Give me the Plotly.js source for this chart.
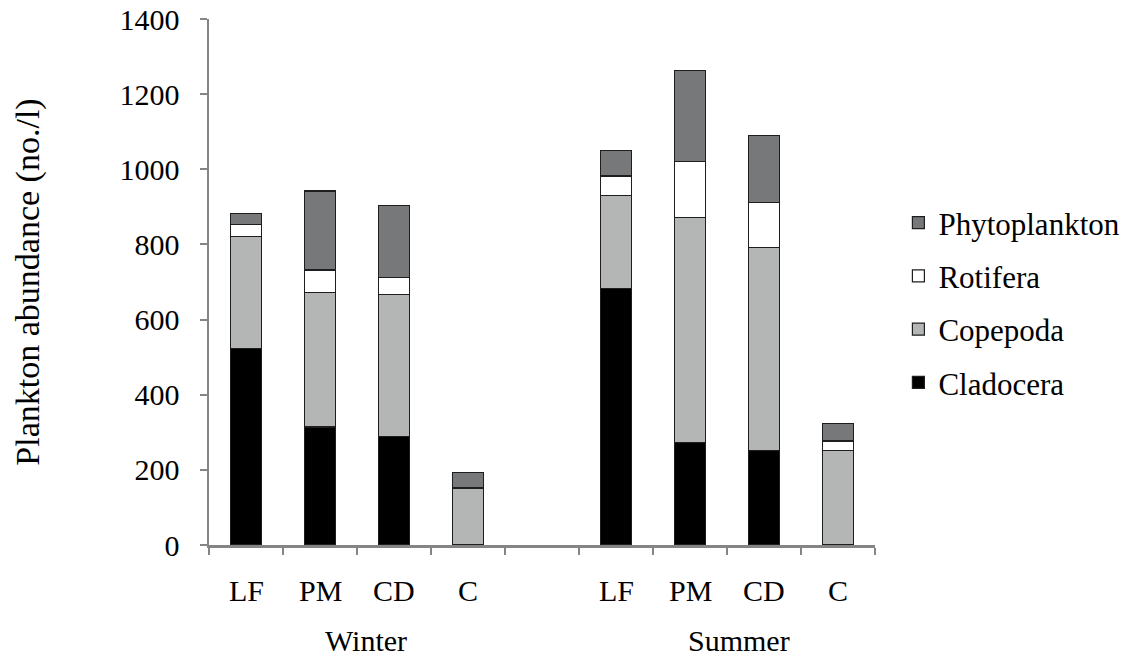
<!DOCTYPE html>
<html>
<head>
<meta charset="utf-8">
<script src="https://cdn.plot.ly/plotly-3.0.1.min.js"></script>
<style>
  html, body { margin: 0; padding: 0; background: #fff; }
  #chart { width: 1123px; height: 657px; }
</style>
</head>
<body>
<div id="chart"></div>
<script>
// Sampling stations within each season
const stations = ['LF', 'PM', 'CD', 'C'];
const seasons = ['Winter', 'Summer'];

// Abundance (no./l), ordered Winter LF, PM, CD, C then Summer LF, PM, CD, C
const cladocera     = [523, 314, 288, 0,   682, 272, 251, 0];
const copepoda      = [299, 359, 379, 150, 248, 599, 540, 251];
const rotifera      = [31,  59,  46,  3,   52,  150, 120, 26];
const phytoplankton = [30,  210, 190, 40,  67,  243, 180, 47];

const yTicks = [0, 200, 400, 600, 800, 1000, 1200, 1400];

// Slot positions: four stations, one empty slot between seasons, four stations
const xPos = [];
seasons.forEach((s, si) => stations.forEach((st, i) => xPos.push(si * (stations.length + 1) + i)));
const nSlots = stations.length * 2 + 1;

const font = '"Liberation Serif", "Times New Roman", serif';
const axisGrey = '#858585';
const edge = { color: '#1e1e1e', width: 1.2 };

// Stacked bottom to top; legend lists top layer first
const series = [
  { name: 'Cladocera', y: cladocera, color: '#000000' },
  { name: 'Copepoda', y: copepoda, color: '#b4b6b6' },
  { name: 'Rotifera', y: rotifera, color: '#ffffff' },
  { name: 'Phytoplankton', y: phytoplankton, color: '#76787a' }
];

const traces = series.map((s, k) => ({
  type: 'bar',
  name: s.name,
  x: xPos,
  y: s.y,
  legendgroup: 'g' + k,
  legendrank: 1000 - k,
  marker: { color: s.color, line: edge },
  hoverinfo: 'name+y'
}));

// Station and season labels under the axis
const annotations = [];
xPos.forEach((x, i) => {
  annotations.push({
    x: x, xref: 'x', y: -0.086, yref: 'paper',
    text: stations[i % stations.length], showarrow: false,
    font: { family: font, size: 30, color: '#000' }, yanchor: 'middle'
  });
});
const seasonCenters = [1.62, 6.66];
seasons.forEach((s, i) => {
  annotations.push({
    x: seasonCenters[i], xref: 'x', y: -0.181, yref: 'paper',
    text: s, showarrow: false,
    font: { family: font, size: 30, color: '#000' }, yanchor: 'middle'
  });
});

const boundaries = [];
for (let b = 0; b <= nSlots; b++) boundaries.push(b - 0.5);

const layout = {
  width: 1123, height: 657,
  margin: { l: 209, r: 248, t: 19, b: 112, pad: 0 },
  paper_bgcolor: '#fff', plot_bgcolor: '#fff',
  barmode: 'stack', bargap: 0.58,
  font: { family: font, color: '#000' },
  showlegend: true,
  legend: {
    traceorder: 'grouped', tracegroupgap: 10,
    xref: 'container', yref: 'container',
    x: 0.8, xanchor: 'left', y: 0.539, yanchor: 'middle',
    font: { family: font, size: 31, color: '#000' },
    bgcolor: 'rgba(0,0,0,0)'
  },
  xaxis: {
    range: [-0.5, nSlots - 0.5], tickmode: 'array', tickvals: boundaries,
    showticklabels: false, ticks: 'outside', ticklen: 7, tickwidth: 2, tickcolor: axisGrey,
    showline: true, linecolor: axisGrey, linewidth: 2.5, showgrid: false, zeroline: false,
    fixedrange: true
  },
  yaxis: {
    range: [0, 1400], tickmode: 'array', tickvals: yTicks,
    ticks: 'outside', ticklen: 7, tickwidth: 2, tickcolor: axisGrey,
    showline: true, linecolor: axisGrey, linewidth: 2.5, showgrid: false, zeroline: false,
    tickfont: { family: font, size: 30, color: '#000' }, ticklabelstandoff: 14,
    title: { text: 'Plankton abundance (no./l)', font: { family: font, size: 34, color: '#000' }, standoff: 70 },
    fixedrange: true
  },
  annotations: annotations
};

Plotly.newPlot('chart', traces, layout, { displayModeBar: false, staticPlot: true });
</script>
</body>
</html>
